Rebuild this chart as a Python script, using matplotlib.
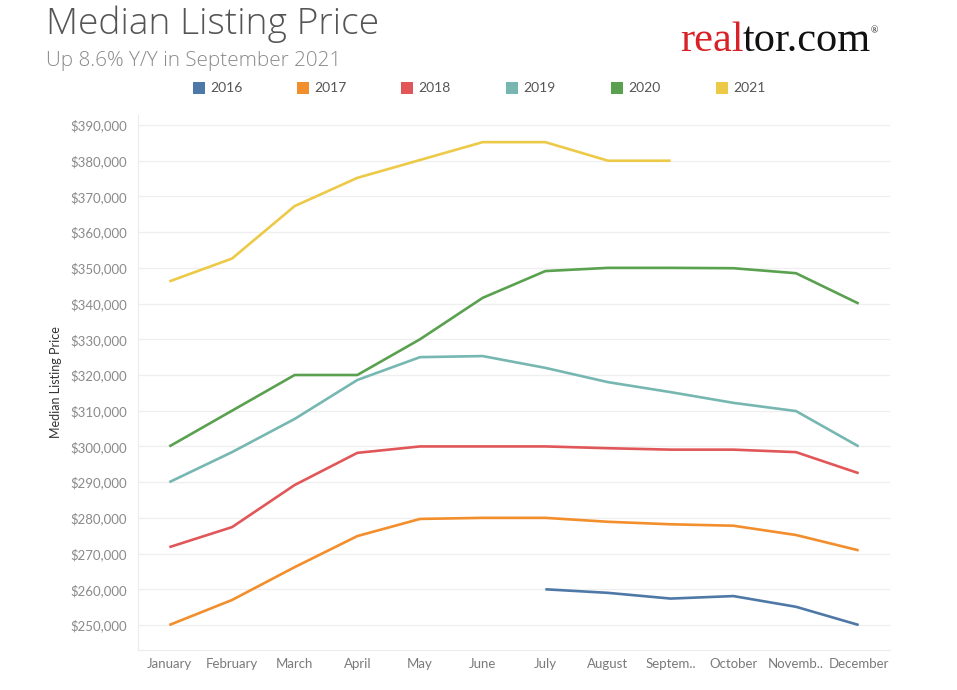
import matplotlib
matplotlib.use("Agg")
import matplotlib.pyplot as plt
from matplotlib.patches import Rectangle

months = ["January", "February", "March", "April", "May", "June", "July",
          "August", "Septem..", "October", "Novemb..", "December"]

years = ["2016", "2017", "2018", "2019", "2020", "2021"]
colors = ["#4e79a7", "#f28e2b", "#e15759", "#76b7b2", "#59a14f", "#edc948"]

v2016 = [None, None, None, None, None, None, 260000, 259000, 257400, 258100, 255100, 250000]
v2017 = [250000, 257000, 266200, 274900, 279700, 280000, 280000, 278900, 278200, 277800, 275200, 270900]
v2018 = [271800, 277400, 289200, 298200, 300000, 300000, 300000, 299500, 299100, 299100, 298400, 292500]
v2019 = [290000, 298400, 307700, 318600, 325000, 325300, 322000, 318000, 315200, 312200, 309900, 300000]
v2020 = [300000, 310000, 320000, 320000, 330000, 341600, 349100, 350000, 350000, 349900, 348500, 340000]
v2021 = [346200, 352600, 367300, 375200, 380200, 385200, 385200, 380000, 380000, None, None, None]
series = [v2016, v2017, v2018, v2019, v2020, v2021]

yticks = list(range(250000, 390001, 10000))

plt.rcParams['font.family'] = ['Lato', 'DejaVu Sans']

fig = plt.figure(figsize=(9.57, 6.9), dpi=100)
ax = fig.add_axes([138/957, 1-650/690, (890-138)/957, (650-115)/690])

for vals, col in zip(series, colors):
    xs = [i for i, v in enumerate(vals) if v is not None]
    ys = [v for v in vals if v is not None]
    ax.plot(xs, ys, color=col, lw=1.9, solid_capstyle='butt', zorder=3)

ax.set_xlim(-0.5, 11.5)
ax.set_ylim(243000, 392800)
ax.set_yticks(yticks)
ax.set_yticklabels([f"${v:,}" for v in yticks])
ax.set_xticks(range(12))
ax.set_xticklabels(months)
ax.tick_params(axis='both', length=0, labelsize=9.5, colors='#8a8a8a')
ax.tick_params(axis='y', pad=8)
ax.tick_params(axis='x', pad=6)
for lab in ax.get_xticklabels():
    lab.set_color('#7a7a7a')
ax.grid(axis='y', color='#efefef', lw=0.9, zorder=0)
for s in ['top', 'right']:
    ax.spines[s].set_visible(False)
ax.spines['left'].set_color('#ececec')
ax.spines['bottom'].set_color('#ececec')
ax.set_ylabel("Median Listing Price", fontsize=9, color='#333333', labelpad=6)

# titles
fig.text(46/957, 1-24/690, "Median Listing Price", fontsize=26.7, color='#555555',
         family=['Open Sans', 'Lato', 'DejaVu Sans'], fontweight=300, va='center', ha='left')
fig.text(46/957, 1-61/690, "Up 8.6% Y/Y in September 2021", fontsize=14.9, color='#8a8a8a',
         family=['Open Sans', 'Lato', 'DejaVu Sans'], fontweight=300, va='center', ha='left')

# legend
lx = [193, 297, 401, 506, 611, 716]
for x0, yr, col in zip(lx, years, colors):
    fig.patches.append(Rectangle((x0/957, 1-94/690), 12/957, 12/690, transform=fig.transFigure,
                                 facecolor=col, edgecolor='none'))
    fig.text((x0+17)/957, 1-88/690, yr, fontsize=10, color='#555555', va='center', ha='left')

# logo
t1 = fig.text(680/957, 1-41/690, "real", fontsize=30.5, color='#d92228', family='Liberation Serif',
              va='center', ha='left')
fig.canvas.draw()
bb = t1.get_window_extent()
t2 = fig.text(bb.x1/957 - 0.001, 1-41/690, "tor.com", fontsize=30.5, color='#111111',
              family='Liberation Serif', va='center', ha='left')
fig.canvas.draw()
bb2 = t2.get_window_extent()
fig.text(bb2.x1/957, 1-31/690, "®", fontsize=7, color='#111111', family='Liberation Serif',
         va='center', ha='left')

fig.savefig("out.png", dpi=100, facecolor='white')
